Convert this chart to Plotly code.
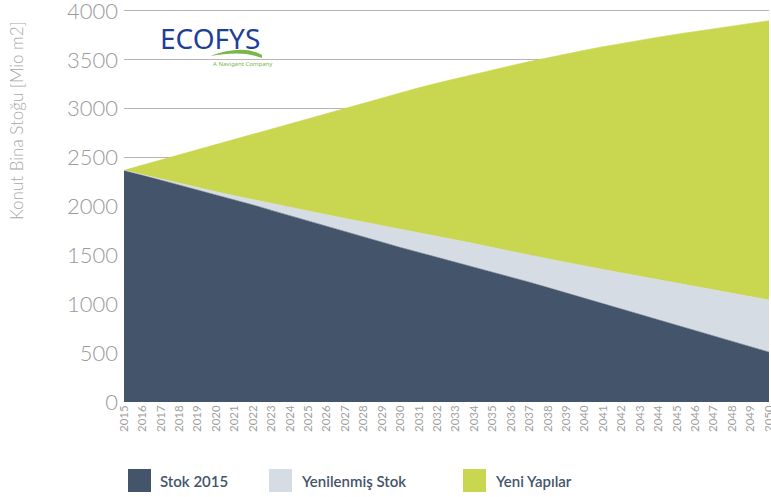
import plotly.graph_objects as go

years = list(range(2015, 2051))

# Stok 2015 (top of dark area)
stok_2015 = [2370, 2320, 2270, 2220, 2170, 2120, 2070, 2015, 1960, 1905,
             1850, 1800, 1745, 1690, 1635, 1580, 1530, 1480, 1430, 1380,
             1330, 1280, 1225, 1170, 1115, 1060, 1005, 950, 895, 840,
             785, 730, 675, 620, 565, 510]
# cumulative top of renovated stock
grey_top = [2370, 2325, 2280, 2235, 2192, 2150, 2110, 2070, 2030, 1990,
            1950, 1915, 1878, 1842, 1806, 1770, 1735, 1695, 1660, 1620,
            1580, 1540, 1500, 1465, 1428, 1390, 1355, 1320, 1285, 1250,
            1215, 1180, 1145, 1110, 1075, 1043]
# cumulative total
total_top = [2370, 2423, 2476, 2529, 2582, 2635, 2688, 2741, 2794, 2847,
             2900, 2954, 3008, 3061, 3113, 3164, 3214, 3262, 3308, 3353,
             3397, 3440, 3482, 3522, 3561, 3598, 3634, 3668, 3701, 3732,
             3762, 3791, 3819, 3846, 3873, 3900]

yenilenmis = [g - s for g, s in zip(grey_top, stok_2015)]
yeni = [t - g for t, g in zip(total_top, grey_top)]

series_names = ["Stok 2015", "Yenilenmiş Stok", "Yeni Yapılar"]
series_values = [stok_2015, yenilenmis, yeni]
colors = ["#44546a", "#d6dce4", "#c9d64f"]

fig = go.Figure()
for name, vals, col in zip(series_names, series_values, colors):
    fig.add_trace(go.Scatter(
        x=[str(y) for y in years], y=vals, name=name, mode="lines",
        stackgroup="one", fillcolor=col, line=dict(width=0.6, color=col),
        showlegend=False, hoverinfo="x+y+name"))

# plot area: top at y=8, bottom at y=402 (px)
T, B = 8, 402
H = B - T
YMAX = 4030

def py(px):
    return (B - px) / H

def pxx(px):
    return (px - 124) / 645

fig.update_layout(
    width=771, height=497,
    margin=dict(l=124, r=2, t=T, b=497 - B),
    plot_bgcolor="white", paper_bgcolor="white",
    xaxis=dict(type="category", tickangle=-90, showgrid=False, zeroline=False,
               showline=False, ticks="", range=[0, 35], automargin=False,
               tickfont=dict(family="Lato", size=11.5, color="#a0a0a0")),
    yaxis=dict(range=[0, YMAX], tickvals=[0, 500, 1000, 1500, 2000, 2500, 3000, 3500, 4000],
               showgrid=True, gridcolor="#b5b5b5", ticklabeloverflow="allow",
               gridwidth=1, zeroline=False, showline=False, ticks="",
               ticklabelstandoff=5, automargin=False,
               tickfont=dict(family="Lato", size=22, color="#9a9a9a", weight=300)),
    font=dict(family="Lato"),
)

# y-axis title
fig.add_annotation(text="Konut Bina Stoğu [Mio m2]", xref="paper", yref="paper",
                   x=pxx(17), y=py(120), xanchor="center", yanchor="middle",
                   textangle=-90, showarrow=False,
                   font=dict(family="Lato", size=17, color="#a8a8a8", weight=300))

# ECOFYS logo
fig.add_annotation(text="ECOFYS", xref="paper", yref="paper", x=pxx(158), y=py(38),
                   xanchor="left", yanchor="middle", showarrow=False,
                   font=dict(family="Noto Sans", size=28, color="#1e3f96"))
fig.add_annotation(text="A Navigant Company", xref="paper", yref="paper",
                   x=pxx(243), y=py(64),
                   xanchor="center", yanchor="middle", showarrow=False,
                   font=dict(family="Noto Sans", size=6, color="#7ab648"))
fig.add_shape(type="path", xref="paper", yref="paper",
              path=(f"M {pxx(210)} {py(56)} Q {pxx(243)} {py(44)} {pxx(262)} {py(55)} "
                    f"L {pxx(262)} {py(58)} Q {pxx(243)} {py(50)} {pxx(210)} {py(56)} Z"),
              fillcolor="#7ab648", line=dict(width=0))

# legend drawn as squares + labels
leg_x = [128, 269, 463]
for x0, name, col in zip(leg_x, series_names, colors):
    fig.add_shape(type="rect", xref="paper", yref="paper",
                  x0=pxx(x0), x1=pxx(x0 + 23), y0=py(492), y1=py(469),
                  fillcolor=col, line=dict(width=0))
    fig.add_annotation(text=name, xref="paper", yref="paper",
                       x=pxx(x0 + 30), y=py(481),
                       xanchor="left", yanchor="middle", showarrow=False,
                       font=dict(family="Lato", size=15, color="#44546a", weight=600))

fig.write_html("out.html")
